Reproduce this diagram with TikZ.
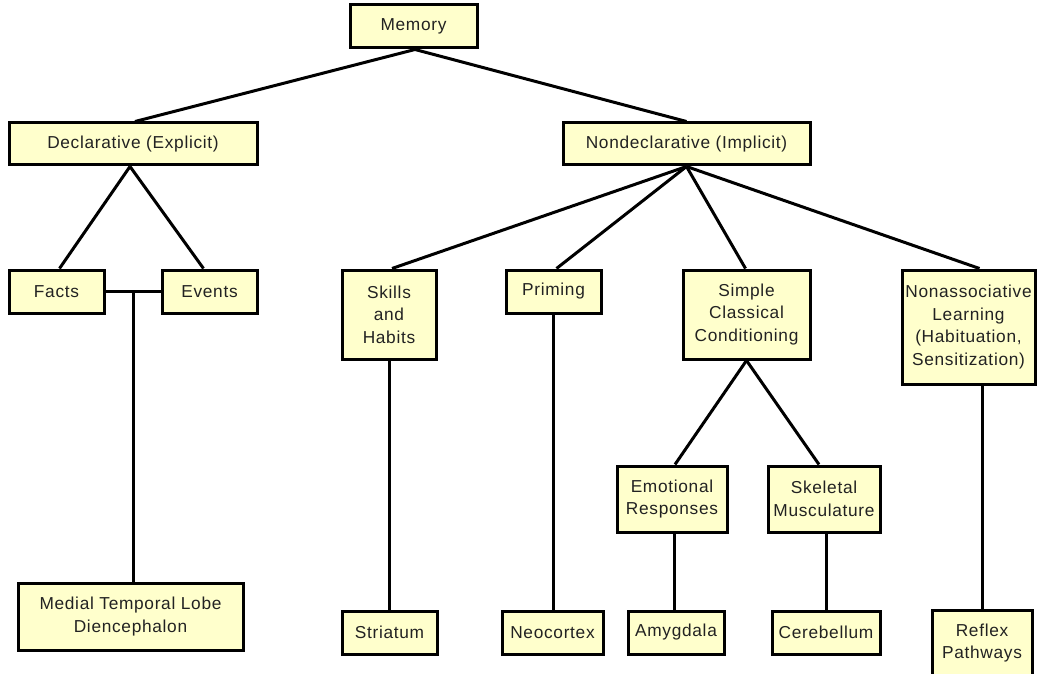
\documentclass[tikz,border=0pt]{standalone}
\usepackage{fontspec}
\setmainfont{Liberation Sans}[LetterSpace=4]
\definecolor{boxfill}{HTML}{FFFFCC}
\definecolor{labeltext}{HTML}{222222}
\begin{document}
\begin{tikzpicture}[x=1pt,y=-1pt,
  box/.style={draw=black, line width=3pt, fill=boxfill, text=labeltext,
    align=center, inner sep=0pt, rectangle,
    font=\fontsize{17.3}{22.5}\selectfont},
  link/.style={draw=black, line width=3pt}]
\clip (0,0) rectangle (1037,674);
\fill[white] (0,0) rectangle (1037,674);

% top levels
\node[box, minimum width=127pt, minimum height=43pt] (mem) at (413.5,26.5) {Memory};
\node[box, minimum width=248pt, minimum height=42pt] (decl) at (133,144) {Declarative (Explicit)};
\node[box, minimum width=247pt, minimum height=42pt] (nd) at (686.5,144) {Nondeclarative (Implicit)};

% declarative branch
\node[box, minimum width=95pt, minimum height=43pt] (facts) at (56.5,291.5) {Facts};
\node[box, minimum width=95pt, minimum height=43pt] (events) at (209.5,291.5) {Events};
\node[box, minimum width=225pt, minimum height=67pt] (medial) at (130.5,616.5) {Medial Temporal Lobe\\Diencephalon};

% nondeclarative branch
\node[box, minimum width=94pt, minimum height=89pt] (skills) at (389,314.5) {Skills\\and\\Habits};
\node[box, minimum width=95pt, minimum height=43pt] (priming) at (553.5,291.5) {Priming};
\node[box, minimum width=127pt, minimum height=89pt] (simple) at (746.5,314.5) {Simple\\Classical\\Conditioning};
\node[box, minimum width=133pt, minimum height=114pt] (nonassoc) at (968.5,327) {Nonassociative\\Learning\\(Habituation,\\Sensitization)};
\node[box, minimum width=110pt, minimum height=66pt] (emo) at (672,499) {Emotional\\Responses};
\node[box, minimum width=112pt, minimum height=66pt] (skel) at (824,499) {Skeletal\\Musculature};

% brain structures
\node[box, minimum width=95pt, minimum height=43pt] (striatum) at (389.5,632.5) {Striatum};
\node[box, minimum width=101pt, minimum height=43pt] (neo) at (552.5,632.5) {Neocortex};
\node[box, minimum width=96pt, minimum height=43pt] (amyg) at (676,632.5) {Amygdala};
\node[box, minimum width=108pt, minimum height=43pt] (cereb) at (826,632.5) {Cerebellum};
\node[box, minimum width=100pt, minimum height=66pt] (reflex) at (982,643) {Reflex\\Pathways};

% connectors
\draw[link] ([xshift=1.5pt]mem.south) -- ([xshift=2pt]decl.north);
\draw[link] ([xshift=1.5pt]mem.south) -- (nd.north);

\draw[link] ([xshift=-3pt]decl.south) -- ([xshift=3pt]facts.north);
\draw[link] ([xshift=-3pt]decl.south) -- ([xshift=-6pt]events.north);
\draw[link] (facts.east) -- (events.west);
\coordinate (junction) at (133,291.5);
\draw[link] (junction) -- (junction |- medial.north);

\draw[link] (nd.south) -- ([xshift=3pt]skills.north);
\draw[link] (nd.south) -- ([xshift=3pt]priming.north);
\draw[link] (nd.south) -- ([xshift=-1pt]simple.north);
\draw[link] (nd.south) -- ([xshift=11pt]nonassoc.north);

\draw[link] (skills.south) -- (skills.south |- striatum.north);
\draw[link] (priming.south) -- (priming.south |- neo.north);
\draw[link] (simple.south) -- ([xshift=3pt]emo.north);
\draw[link] (simple.south) -- ([xshift=-5pt]skel.north);
\draw[link] ([xshift=2pt]emo.south) -- ([xshift=2pt]emo.south |- amyg.north);
\draw[link] ([xshift=2pt]skel.south) -- ([xshift=2pt]skel.south |- cereb.north);
\draw[link] (reflex.north |- nonassoc.south) -- (reflex.north);
\end{tikzpicture}
\end{document}
